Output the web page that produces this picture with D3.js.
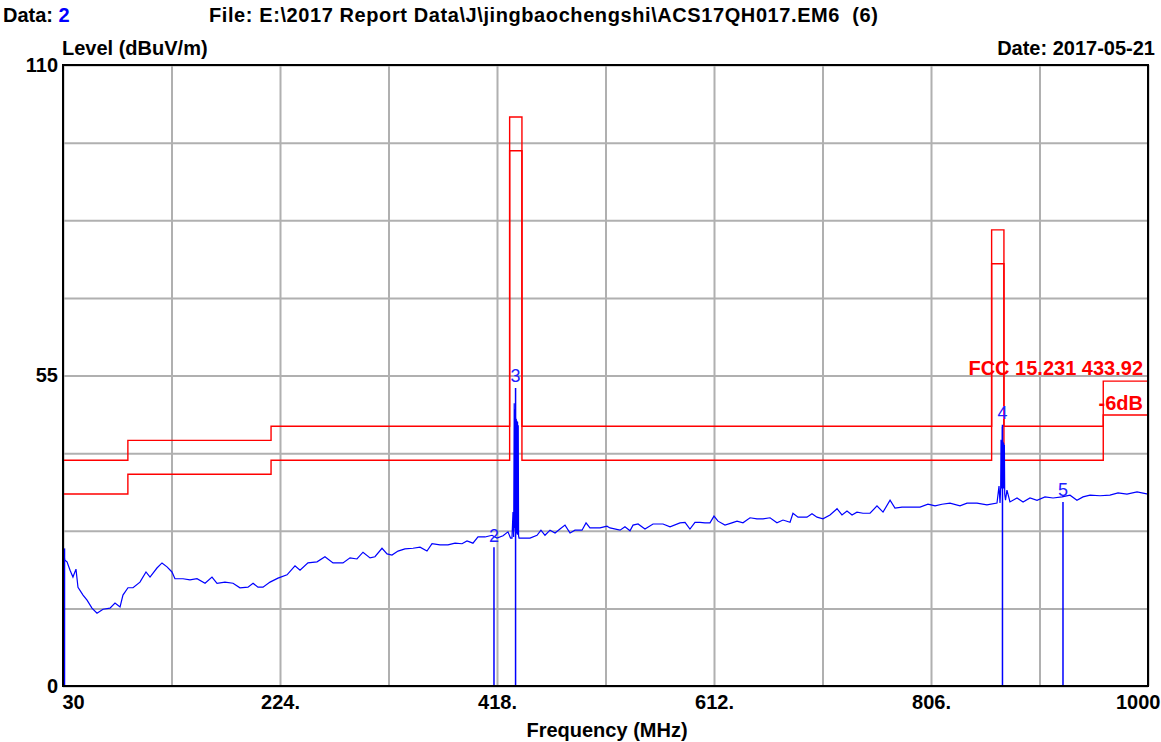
<!DOCTYPE html>
<html>
<head>
<meta charset="utf-8">
<script src="https://cdnjs.cloudflare.com/ajax/libs/d3/7.8.5/d3.min.js"></script>
<style>
  body { margin: 0; background: #fff; }
  svg text { font-family: "Liberation Sans", Arial, sans-serif; font-weight: bold; font-size: 20px; }
</style>
</head>
<body>
<div id="chart"></div>
<script>

// spectrum trace (MHz, dBuV/m)
var traceFreq = [30.3, 31.5, 33.6, 36.3, 38.9, 41.6, 43.4, 47.9, 51.5, 55.9, 60.4, 65.8, 72.0, 76.5, 81.0, 83.6,
  88.1, 92.6, 98.8, 104.2, 107.8, 110.5, 114.0, 118.5, 123.0, 127.4, 130.1, 137.3, 143.5, 149.8, 157.0, 163.2,
  167.7, 174.8, 182.0, 188.2, 195.4, 199.9, 204.3, 208.8, 215.1, 222.2, 230.3, 237.4, 241.9, 249.0, 257.1,
  264.2, 271.4, 277.6, 280.3, 286.6, 292.8, 298.2, 304.5, 308.9, 315.2, 319.7, 324.1, 329.5, 335.7, 342.9,
  349.2, 355.4, 359.9, 367.0, 374.2, 380.5, 386.7, 391.2, 396.5, 401.0, 407.3, 413.5, 418.0, 423.4, 427.8,
  430.1, 431.4, 432.3, 432.9,
  433.4, 433.7, 434.0, 434.3, 434.6, 434.9, 435.2, 435.5, 435.8, 436.1, 436.4, 436.7, 437.0, 437.3,
  437.7, 438.6, 447.5,
  453.8, 457.3, 460.9, 465.4, 469.9, 474.3, 478.8, 483.3, 487.7, 494.0, 497.6, 501.1, 510.1, 516.3, 519.0,
  528.0, 532.4, 536.9, 539.6, 544.1, 550.3, 557.5, 566.4, 572.7, 581.6, 586.1, 590.5, 595.0, 599.5, 603.9,
  608.4, 612.0, 615.6, 621.8, 628.0, 632.6, 637.9, 644.2, 650.4, 655.8, 662.1, 668.3, 673.7, 680.0, 682.6,
  687.1, 695.1, 699.6, 704.1, 709.4, 715.7, 722.0, 726.4, 730.9, 735.4, 739.8, 745.2, 751.5, 757.7, 763.1,
  769.4, 773.8, 780.1, 787.2, 796.2, 803.3, 809.6, 815.8, 823.0, 831.9, 838.2, 847.1, 856.0, 865.0, 866.8,
  867.7, 868.3,
  868.6, 868.9, 869.2, 869.5, 869.8, 870.1, 870.4, 870.7, 871.0, 871.3, 871.6, 871.9,
  872.6, 873.9, 876.6, 882.9, 888.3, 894.5, 900.8,
  907.9, 915.1, 923.1, 930.3, 936.5, 941.9, 948.2, 957.1, 966.0, 973.2, 981.2, 990.2, 1000];
var traceLevel = [24.4, 22.3, 22.0, 20.5, 19.3, 20.7, 17.5, 16.1, 15.2, 13.8, 12.9, 13.6, 13.8, 14.7, 14.0, 16.1,
  17.4, 17.4, 18.4, 20.2, 19.3, 20.0, 20.9, 21.8, 21.1, 20.2, 19.0, 19.0, 18.8, 19.0, 18.2, 19.3,
  18.2, 18.4, 18.2, 17.4, 17.5, 18.2, 17.5, 17.5, 18.4, 19.1, 19.7, 21.3, 20.5, 21.8, 22.0,
  22.9, 21.8, 21.8, 21.8, 22.7, 22.5, 23.7, 22.7, 22.9, 24.4, 23.4, 23.2, 23.9, 24.3, 24.4,
  24.6, 23.9, 25.2, 25.0, 25.0, 25.3, 25.2, 25.7, 25.3, 26.4, 26.4, 26.7, 26.2, 26.6, 27.3,
  26.2, 26.2, 30.8, 26.4,
  50.1, 28.0, 49.0, 27.5, 47.5, 27.2, 47.3, 27.0, 47.0, 26.8, 46.8, 26.8, 46.2, 26.6,
  26.2, 26.2, 26.2,
  26.7, 27.6, 26.7, 27.6, 27.1, 27.8, 28.5, 27.1, 27.6, 27.6, 28.9, 28.0, 28.0, 28.3, 28.0,
  27.6, 28.2, 27.5, 28.5, 28.7, 27.8, 28.7, 28.7, 28.2, 28.9, 29.0, 27.8, 29.0, 29.0, 28.9,
  28.9, 30.1, 29.2, 28.5, 28.9, 29.2, 28.9, 29.8, 29.6, 29.6, 29.8, 28.9, 29.4, 29.0, 30.6,
  29.9, 29.9, 30.5, 29.9, 29.6, 30.3, 31.4, 30.3, 31.0, 30.3, 30.8, 30.6, 30.6, 31.9, 30.8,
  32.9, 31.5, 31.7, 31.7, 31.7, 32.2, 31.9, 32.2, 32.4, 31.9, 32.4, 32.4, 32.1, 32.4, 35.4,
  32.4, 35.2,
  43.6, 35.0, 43.4, 35.0, 45.9, 35.0, 43.2, 35.0, 43.0, 35.0, 42.7, 34.0,
  32.9, 34.7, 32.6, 33.3, 32.6, 33.3, 32.9,
  33.5, 33.3, 33.5, 33.8, 32.9, 33.5, 33.8, 33.7, 33.8, 34.2, 34.0, 34.4, 34.0];

// FCC 15.231 433.92 limit and the -6dB line, as steps starting at each frequency
var limitFreq = [30, 88, 216, 429.3, 440.3, 860.2, 871.2, 960, 1000];
var limitLevel = [40, 43.5, 46, 100.8, 46, 80.8, 46, 54, 54];
var marginLevel = [34, 37.5, 40, 94.8, 40, 74.8, 40, 48, 48];

// markers
var markerNo = ["", "2", "3", "4", "5"];
var markerFreq = [30, 415.3, 434.6, 869.9, 924];
var markerLevel = [26.5, 26.7, 54.9, 48.4, 34.7];

var xGrid = [30, 127, 224, 321, 418, 515, 612, 709, 806, 903, 1000];
var xLabels = [30, 224, 418, 612, 806, 1000];
var yGrid = [0, 13.75, 27.5, 41.25, 55, 68.75, 82.5, 96.25, 110];
var yLabels = [0, 55, 110];

var margin = { top: 65, right: 13, bottom: 56, left: 63 },
  width = 1161 - margin.left - margin.right,
  height = 742 - margin.top - margin.bottom;

var svg = d3.select("#chart")
  .append("svg")
  .attr("width", 1161)
  .attr("height", 742);

var plot = svg.append("g")
  .attr("transform", "translate(" + margin.left + "," + margin.top + ")");

var xScale = d3.scaleLinear().domain([30, 1000]).range([0, width]),
  yScale = d3.scaleLinear().domain([0, 110]).range([height, 0]);

svg.append("defs").append("clipPath").attr("id", "clip")
  .append("rect").attr("width", width).attr("height", height);

// grid
plot.append("g")
  .attr("class", "grid")
  .attr("transform", "translate(0," + height + ")")
  .call(d3.axisBottom(xScale).tickValues(xGrid).tickSize(-height).tickFormat(""));
plot.append("g")
  .attr("class", "grid")
  .call(d3.axisLeft(yScale).tickValues(yGrid).tickSize(-width).tickFormat(""));
plot.selectAll(".grid .domain").remove();
plot.selectAll(".grid line").attr("stroke", "#b0b0b0").attr("stroke-width", 2);

var inner = plot.append("g").attr("clip-path", "url(#clip)");

function stepLine(levels) {
  return d3.line()
    .x(function (d, i) { return xScale(limitFreq[i]); })
    .y(function (d) { return yScale(d); })
    .curve(d3.curveStepAfter)(levels);
}

inner.append("path").attr("d", stepLine(limitLevel))
  .attr("fill", "none").attr("stroke", "#ff0000").attr("stroke-width", 1.4);
inner.append("path").attr("d", stepLine(marginLevel))
  .attr("fill", "none").attr("stroke", "#ff0000").attr("stroke-width", 1.4);

var traceLine = d3.line()
  .x(function (d, i) { return xScale(traceFreq[i]); })
  .y(function (d) { return yScale(d); });

inner.append("path").attr("d", traceLine(traceLevel))
  .attr("fill", "none").attr("stroke", "#0000ff").attr("stroke-width", 1.2);

// marker lines and numbers
inner.selectAll(".mline")
  .data(markerLevel)
  .enter()
  .append("line")
  .attr("class", "mline")
  .attr("x1", function (d, i) { return xScale(markerFreq[i]) + (i == 0 ? 1 : 0); })
  .attr("x2", function (d, i) { return xScale(markerFreq[i]) + (i == 0 ? 1 : 0); })
  .attr("y1", function (d) { return yScale(d) + 12; })
  .attr("y2", height)
  .attr("stroke", "#0000ff")
  .attr("stroke-width", function (d, i) { return i == 0 ? 2.5 : 1.5; });

plot.selectAll(".mlabel")
  .data(markerLevel)
  .enter()
  .append("text")
  .attr("class", "mlabel")
  .attr("x", function (d, i) { return xScale(markerFreq[i]); })
  .attr("y", function (d) { return yScale(d); })
  .attr("dy", "0.35em")
  .attr("text-anchor", "middle")
  .attr("fill", "#2020ff")
  .style("font-weight", "normal")
  .style("font-size", "18px")
  .text(function (d, i) { return markerNo[i]; });

// frame
plot.append("rect")
  .attr("width", width).attr("height", height)
  .attr("fill", "none").attr("stroke", "#000").attr("stroke-width", 2);

// axes labels
var xAxis = plot.append("g")
  .attr("transform", "translate(0," + height + ")")
  .call(d3.axisBottom(xScale).tickValues(xLabels).tickSize(0).tickPadding(9)
    .tickFormat(function (d) { return d == 30 || d == 1000 ? String(d) : d + "."; }));
var yAxis = plot.append("g")
  .call(d3.axisLeft(yScale).tickValues(yLabels).tickSize(0).tickPadding(5));
plot.selectAll(".domain").remove();
plot.selectAll(".tick text")
  .attr("fill", "#000")
  .style("font-size", "20px")
  .style("font-weight", "bold")
  .style("font-family", "'Liberation Sans', Arial, sans-serif");
xAxis.selectAll(".tick text").filter(function (d) { return d == 30; })
  .attr("text-anchor", "start").attr("x", -1);
xAxis.selectAll(".tick text").filter(function (d) { return d == 1000; })
  .attr("text-anchor", "end").attr("x", 12);

// limit names
plot.append("text")
  .attr("x", xScale(1000) - 5).attr("y", yScale(54) - 6)
  .attr("text-anchor", "end").attr("fill", "#ff0000")
  .text("FCC 15.231 433.92");
plot.append("text")
  .attr("x", xScale(1000) - 5).attr("y", yScale(48) - 5)
  .attr("text-anchor", "end").attr("fill", "#ff0000")
  .text("-6dB");

// header texts
var header = svg.append("text").attr("x", 3).attr("y", 22);
header.append("tspan").text("Data: ");
header.append("tspan").attr("fill", "#0000ff").text("2");
svg.append("text").attr("x", 209).attr("y", 22)
  .attr("textLength", 669).attr("lengthAdjust", "spacing")
  .style("white-space", "pre")
  .text("File: E:\\2017 Report Data\\J\\jingbaochengshi\\ACS17QH017.EM6  (6)");
svg.append("text").attr("x", 62).attr("y", 55).text("Level (dBuV/m)");
svg.append("text").attr("x", 1155).attr("y", 55).attr("text-anchor", "end").text("Date: 2017-05-21");
svg.append("text").attr("x", 607).attr("y", 737).attr("text-anchor", "middle").text("Frequency (MHz)");

</script>
</body>
</html>
